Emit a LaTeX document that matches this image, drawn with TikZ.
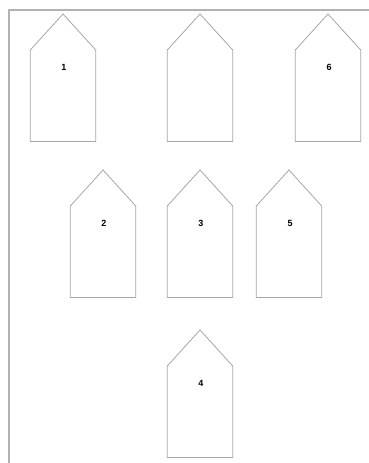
\documentclass[tikz,border=0pt]{standalone}
\usepackage{fontspec}
\setsansfont{Liberation Sans}
\usetikzlibrary{calc,positioning}

\begin{document}
\begin{tikzpicture}[x=1pt, y=-1pt,
	body/.style={minimum width=65pt, minimum height=91pt, inner sep=0pt, anchor=north},
	outline/.style={draw=gray!70, line width=0.8pt, line join=miter},
	num/.style={font=\sffamily\bfseries\fontsize{9}{10}\selectfont, inner sep=0pt},
	frame/.style={draw=gray!60, line width=1.2pt}]

		\useasboundingbox (0,0) rectangle (369,463);

		\def\roofh{36} % height of the pointed top
		\def\numdrop{17} % label below the shoulders

		% frame
		\draw[frame] (9,463) -- (9,10) -- (369,10);

		% houses: centre x / shoulder y / label / name
		\foreach \x/\y/\t/\n in {63/50/1/h1, 200/50/{}/h0, 328/50/6/h6,
			103/206/2/h2, 200/206/3/h3, 289/206/5/h5,
			200/366/4/h4} {
			\node[body] (\n) at (\x,\y) {};
			\draw[outline] (\n.north west) -- ($(\n.north)+(0,-\roofh)$) -- (\n.north east)
				-- (\n.south east) -- (\n.south west) -- cycle;
			\node[num] (\n-t) at ($(\n.north)+(1,\numdrop)$) {\t};
		}

	\end{tikzpicture}
\end{document}
